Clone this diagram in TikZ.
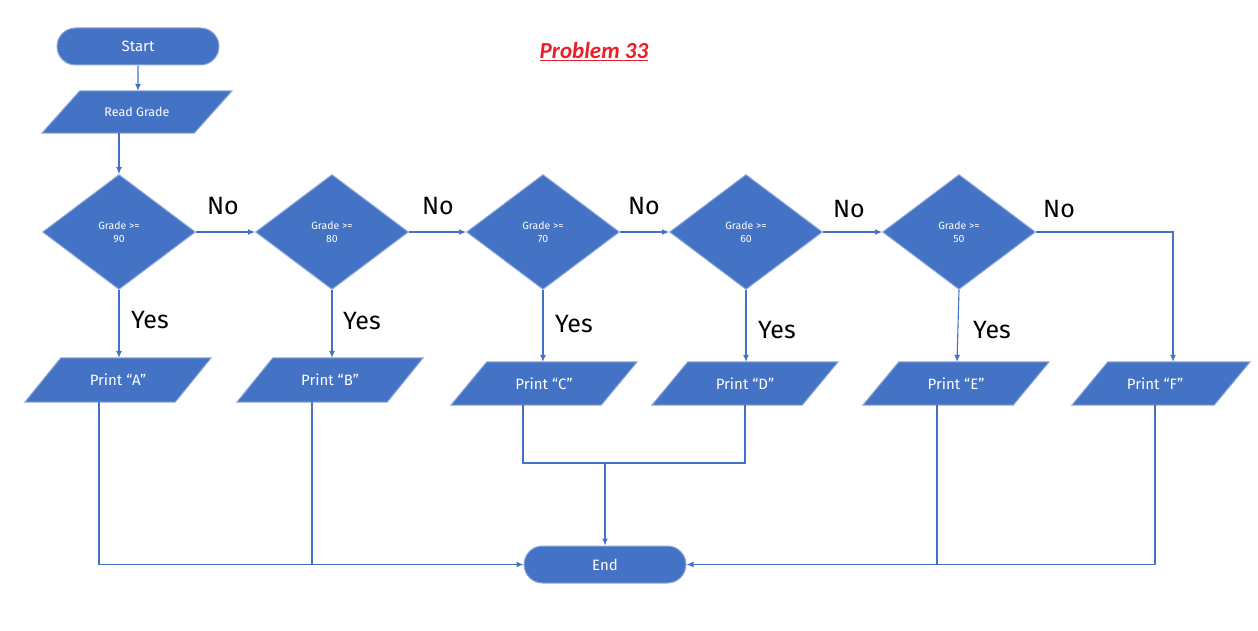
\documentclass[tikz,border=0pt]{standalone}
\usepackage{fontspec}
\setmainfont{Fira Sans}
\newfontfamily\titlefont{Carlito}
\usetikzlibrary{shapes.geometric,shapes.misc,arrows.meta}
\definecolor{shapeblue}{HTML}{4472C4}
\definecolor{edgeblue}{HTML}{8FAADC}
\definecolor{lineblue}{HTML}{4472C4}
\definecolor{titlered}{HTML}{EE1C25}
\tikzset{
  base/.style={fill=shapeblue, draw=edgeblue, line width=1pt, text=white, inner sep=0pt, align=center},
  term/.style={base, rounded rectangle, minimum width=162pt, minimum height=37pt, font=\fontsize{15}{17}\selectfont},
  decision/.style={base, diamond, minimum width=153pt, minimum height=115pt, font=\fontsize{10.5}{13}\selectfont},
  iobox/.style={rectangle, text=white, inner sep=0pt, minimum width=186pt, minimum height=44pt, font=\fontsize{15}{17}\selectfont},
  slantfill/.style={fill=shapeblue, draw=edgeblue, line width=1pt},
  conn/.style={draw=lineblue, line width=1.1pt},
  arr/.style={conn, -{Latex[length=7pt,width=6pt]}},
  lbl/.style={font=\fontsize{25}{27}\selectfont, text=black, inner sep=0pt}
}
\newcommand{\slantbox}[2]{%
  \path[slantfill] ([xshift=#2]#1.north west) -- (#1.north east) -- ([xshift=-#2]#1.south east) -- (#1.south west) -- cycle;}
\begin{document}
\begin{tikzpicture}[x=1pt,y=-1pt]
\useasboundingbox (0,0) rectangle (1258,631);
\node[text=titlered, font=\titlefont\bfseries\itshape\fontsize{23}{26}\selectfont] (title) at (594,52) {\underline{Problem 33}};
\node[term] (start) at (138,46.5) {Start};
% parallelogram boxes: invisible named nodes, shape drawn behind
\path node[iobox, minimum width=190pt, minimum height=42pt] (read) at (137,112) {};
\node[iobox] (pa) at (118,380) {};
\node[iobox] (pb) at (330,380) {};
\node[iobox, minimum height=43pt] (pc) at (544,383.5) {};
\node[iobox, minimum height=43pt] (pd) at (745,383.5) {};
\node[iobox, minimum height=43pt] (pe) at (956,383.5) {};
\node[iobox, minimum height=43pt, minimum width=178pt] (pf) at (1161,383.5) {};
\slantbox{read}{38}
\slantbox{pa}{36}
\slantbox{pb}{36}
\slantbox{pc}{36}
\slantbox{pd}{36}
\slantbox{pe}{36}
\slantbox{pf}{36}
\node[text=white, font=\fontsize{12.5}{14}\selectfont] (readt) at (read) {Read Grade};
\node[text=white, font=\fontsize{15}{17}\selectfont] (pat) at (pa) {Print “A”};
\node[text=white, font=\fontsize{15}{17}\selectfont] (pbt) at (pb) {Print “B”};
\node[text=white, font=\fontsize{15}{17}\selectfont] (pct) at (pc) {Print “C”};
\node[text=white, font=\fontsize{15}{17}\selectfont] (pdt) at (pd) {Print “D”};
\node[text=white, font=\fontsize{15}{17}\selectfont] (pet) at (pe) {Print “E”};
\node[text=white, font=\fontsize{15}{17}\selectfont] (pft) at ([xshift=-6]pf.center) {Print “F”};
\node[decision] (d1) at (119,232) {Grade >=\\90};
\node[decision] (d2) at (332,232) {Grade >=\\80};
\node[decision] (d3) at (543,232) {Grade >=\\70};
\node[decision] (d4) at (746,232) {Grade >=\\60};
\node[decision] (d5) at (959,232) {Grade >=\\50};
\node[term] (end) at (605,564.5) {End};
% flow
\draw[arr] (start) -- (start.south |- read.north);
\draw[arr] (read.south -| d1.north) -- (d1.north);
\draw[arr] (d1.east) -- (d2.west);
\draw[arr] (d2.east) -- (d3.west);
\draw[arr] (d3.east) -- (d4.west);
\draw[arr] (d4.east) -- (d5.west);
\draw[arr] (d5.east) -| ([xshift=12]pf.north);
\draw[arr] (d1.south) -- (d1.south |- pa.north);
\draw[arr] (d2.south) -- (d2.south |- pb.north);
\draw[arr] (d3.south) -- (d3.south |- pc.north);
\draw[arr] (d4.south) -- (d4.south |- pd.north);
\draw[arr] (d5.south) -- ([xshift=-2]d5.south |- pe.north);
% labels
\node[lbl] (no1) at (223,206) {No};
\node[lbl] (no2) at (438,206) {No};
\node[lbl] (no3) at (644,206) {No};
\node[lbl] (no4) at (849,209) {No};
\node[lbl] (no5) at (1059,209) {No};
\node[lbl] (y1) at (150,320) {Yes};
\node[lbl] (y2) at (362,321) {Yes};
\node[lbl] (y3) at (574,324) {Yes};
\node[lbl] (y4) at (777,330) {Yes};
\node[lbl] (y5) at (992,330) {Yes};
% to End
\coordinate (m) at (605,463);
\draw[arr] ([xshift=-19]pa.south) |- (end.west);
\draw[conn] ([xshift=-18]pb.south) -- ([xshift=-18]pb.south |- end.west);
\draw[conn] ([xshift=-21]pc.south) |- (m) -| (pd.south);
\draw[arr] (m) -- (end.north);
\draw[arr] ([xshift=-19]pe.south) |- (end.east);
\draw[conn] ([xshift=-6]pf.south) |- ([xshift=-19]pe.south |- end.east);
\end{tikzpicture}
\end{document}
